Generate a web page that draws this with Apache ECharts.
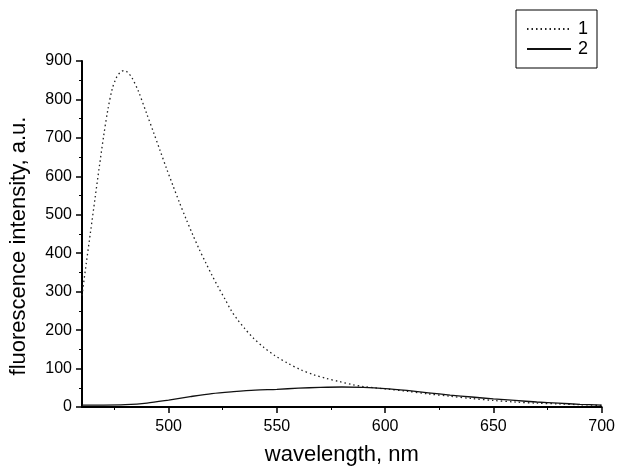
<!DOCTYPE html>
<html>
<head>
<meta charset="utf-8">
<script src="https://cdn.jsdelivr.net/npm/echarts@6/dist/echarts.min.js"></script>
<style>
html,body{margin:0;padding:0;background:#fff;}
#chart{width:618px;height:471px;}
</style>
</head>
<body>
<div id="chart"></div>
<script>
// Series 1 (dotted)
var wl1 = [460,462,464,466,468,470,472,474,476,478,479.5,481,483,486,490,493,496,499,502,505,508,511,514,517,520,523,526,529,532,535,539,544,549,555,561,567,573,579,585,590,595,600,610,620,630,640,650,660,670,680,690,700];
var val1 = [290,375,458,542,625,705,775,828,858,872,875,871,857,822,761,715,668,621,576,532,490,450,412,377,343,311,281,250,226,205,180,155,134,114,97,84,74,66,58,53,50,47,41,34,28,22,17,13,10,8,6,4];
// Series 2 (solid)
var wl2 = [460,470,480,490,500,510,520,530,540,550,560,570,580,590,600,610,620,630,640,650,660,670,680,690,700];
var val2 = [5,5,6,10,18,27,35,40,44,46,49,51,52,51,48,43,37,31,26,21,17,13,10,7,5];
var seriesNames = ['1','2'];
var xMajorTicks = [500,550,600,650,700];
var xMinorTicks = [475,525,575,625,675];
var xTitle = 'wavelength, nm';
var yTitle = 'fluorescence intensity, a.u.';

function pairs(xs, ys){ return xs.map(function(x,i){return [x, ys[i]];}); }

var font = 'Liberation Sans, Arial, sans-serif';
var chart = echarts.init(document.getElementById('chart'), null, {renderer:'canvas'});
chart.setOption({
  animation:false,
  backgroundColor:'#fff',
  grid:{left:82,right:16,top:61,bottom:58,containLabel:false},
  legend:{
    orient:'vertical', left:516, top:10,
    padding:[10,9,10,10], itemGap:2, itemWidth:44, itemHeight:20,
    borderColor:'#000', borderWidth:1, backgroundColor:'#fff',
    itemStyle:{color:'rgba(0,0,0,0)',borderWidth:0,opacity:0},
    textStyle:{fontFamily:font,fontSize:18,color:'#000',padding:[0,0,0,2]},
    data:seriesNames
  },
  xAxis:[{
    type:'value', min:460, max:700, position:'bottom',
    name:xTitle, nameLocation:'middle', nameGap:37,
    nameTextStyle:{fontFamily:font,fontSize:22,color:'#000'},
    axisLine:{show:true,onZero:false,lineStyle:{color:'#000',width:2}},
    axisTick:{show:true,length:6,customValues:xMajorTicks,lineStyle:{color:'#000',width:1.5}},
    axisLabel:{show:true,customValues:xMajorTicks,fontFamily:font,fontSize:16,color:'#000',margin:12},
    splitLine:{show:false}
  },{
    type:'value', min:460, max:700, position:'bottom',
    axisLine:{show:false,onZero:false},
    axisTick:{show:true,length:3,customValues:xMinorTicks,lineStyle:{color:'#000',width:1}},
    axisLabel:{show:false},
    splitLine:{show:false}
  }],
  yAxis:{
    type:'value', min:0, max:900, interval:100,
    name:yTitle, nameLocation:'middle', nameGap:52, nameRotate:90,
    nameTextStyle:{fontFamily:font,fontSize:22,color:'#000',padding:[0,24,0,0]},
    axisLine:{show:true,lineStyle:{color:'#000',width:2}},
    axisTick:{show:true,length:6,lineStyle:{color:'#000',width:1.5}},
    minorTick:{show:true,splitNumber:2,length:3,lineStyle:{color:'#000',width:1}},
    axisLabel:{fontFamily:font,fontSize:16,color:'#000',margin:10},
    splitLine:{show:false}
  },
  series:[{
    name:seriesNames[0], type:'line', symbol:'none', smooth:0.3,
    xAxisIndex:0,
    lineStyle:{color:'#222',width:1.3,type:[1.5,3]},
    itemStyle:{color:'#222'},
    data:pairs(wl1,val1)
  },{
    name:seriesNames[1], type:'line', symbol:'none', smooth:0.3,
    xAxisIndex:0,
    lineStyle:{color:'#111',width:1.3,type:'solid'},
    itemStyle:{color:'#111'},
    data:pairs(wl2,val2)
  }]
});
</script>
</body>
</html>
